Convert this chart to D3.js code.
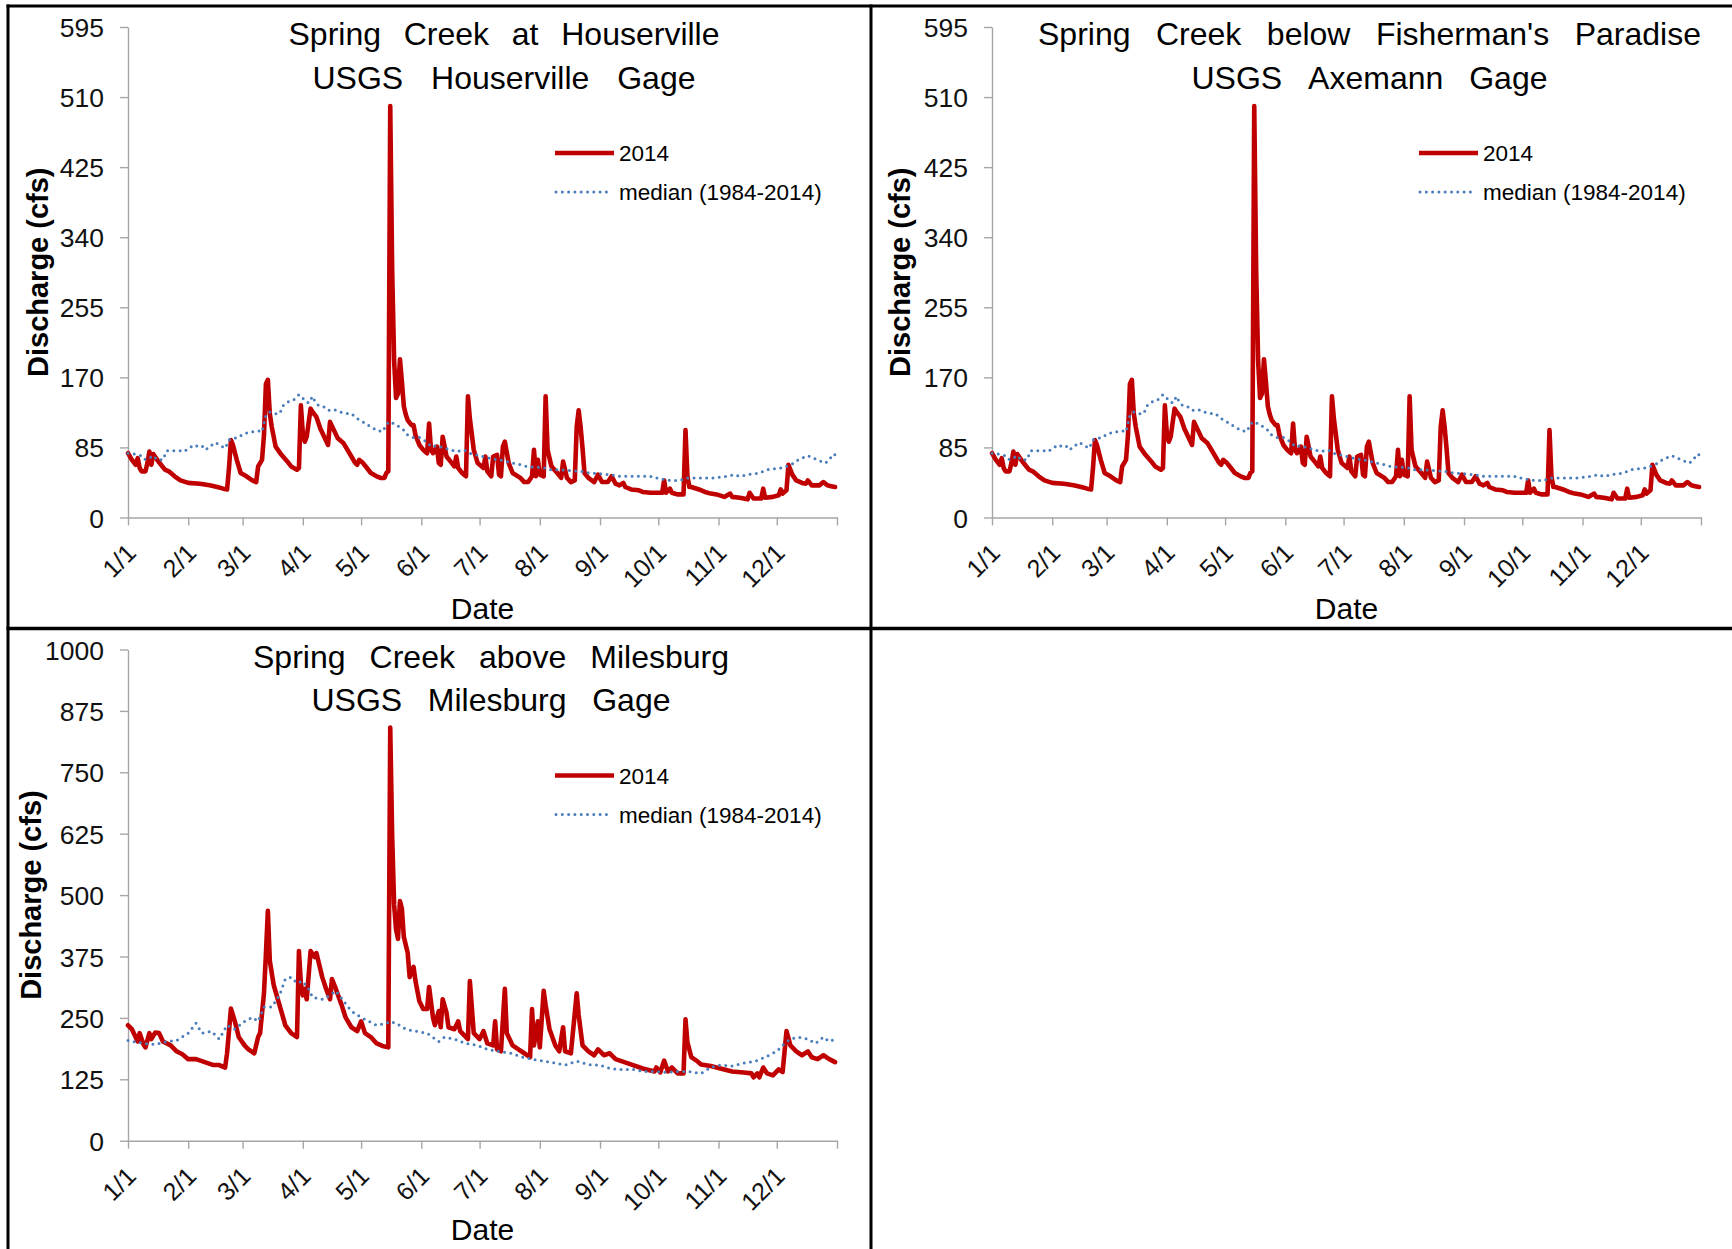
<!DOCTYPE html>
<html>
<head>
<meta charset="utf-8">
<title>Spring Creek discharge 2014</title>
<script src="https://cdn.jsdelivr.net/npm/d3@7"></script>
<style>
  html, body { margin: 0; padding: 0; background: #ffffff; }
  svg { display: block; }
</style>
</head>
<body>
<svg id="chart" width="1732" height="1249"></svg>
<script>
// ---- Daily discharge (cfs), keyed by day of year (0 = Jan 1, 2014) ----

// Houserville gage, 2014
const houservilleDays = [
  0,2,4,5,6,7,9,10,11,12, 13,15,17,19,21,24,27,31,37,42,
  46,49,51,52,53,54,56,58,61,64, 66,67,69,70,71,72,73,74,76,79,
  82,84,87,88,89,90,91,92,94,95, 97,99,101,103,104,106,108,111,113,115,
  117,118,119,121,123,125,128,130,132,133, 134,135,136,137,138,139,140,141,142,143,
  144,146,147,148,150,152,154,155,156,157, 159,160,161,162,164,166,168,169,170,172,
  174,175,176,178,180,183,184,185,187,188, 190,191,192,193,194,196,198,202,204,206,
  208,209,210,211,212,214,215,216,218,221, 223,224,226,228,230,231,232,233,234,235,
  237,240,242,244,247,249,251,253,255,256, 259,263,265,269,272,275,276,277,279,280,
  283,286,287,288,289,290,294,297,300,303, 307,310,311,315,319,320,322,326,327,328,
  332,335,336,337,339,340,342,344,347,349, 350,352,356,358,360,362,364
];
const houservilleFlow2014 = [
  78,70,64,72,60,56,56,66,80,64, 77,70,64,58,56,50,45,42,41,39,
  37,35,34,60,94,88,70,54,50,45, 43,62,70,100,162,167,126,110,86,76,
  68,62,58,60,136,102,92,98,132,128, 122,108,98,88,116,106,96,90,82,74,
  66,64,70,66,60,54,50,48,48,54, 56,499,300,190,145,150,192,165,135,125,
  118,112,112,100,88,82,78,114,82,78, 86,66,64,98,74,68,62,74,60,54,
  50,147,120,82,66,60,74,56,50,74, 76,52,50,86,92,66,54,48,43,43,
  50,82,50,70,52,50,147,82,62,54, 48,68,48,43,45,110,130,110,84,54,
  48,43,52,43,43,50,41,39,42,37, 34,33,31,30,30,30,45,30,35,30,
  28,28,106,50,37,37,34,31,29,28, 25,29,25,24,22,30,23,23,35,24,
  25,27,34,29,33,64,52,45,42,41, 45,39,39,43,39,38,37
];

// Houserville gage, daily median 1984-2014
const houservilleMedianDays = [
  0,3,5,7,9,11,13,15,18,20, 23,27,29,30,32,34,36,38,40,42,
  45,47,50,52,54,57,59,62,64,67, 69,70,71,73,76,78,80,82,85,88,
  89,92,93,95,96,98,101,103,106,109, 113,115,118,121,125,128,131,132,134,137,
  139,142,144,147,150,151,154,156,159,162, 166,169,173,176,179,181,184,188,191,195,
  198,202,205,209,212,215,217,222,228,233, 238,243,248,253,259,264,269,271,273,276,
  279,284,288,291,296,301,305,308,312,315, 319,322,325,329,332,336,339,343,345,347,
  350,352,355,357,359,361,363,364
];
const houservilleMedianFlow = [
  78,77,76,75,70,72,75,70,70,81, 81,81,80,82,85,88,86,87,82,86,
  91,88,84,94,96,97,101,103,104,105, 104,114,124,128,126,126,136,140,142,149,
  147,140,139,147,142,136,134,130,131,128, 126,126,120,116,110,106,104,108,116,114,
  111,106,100,97,97,95,92,86,87,85, 82,80,82,78,76,75,73,71,70,68,
  66,64,62,61,61,60,58,58,57,56, 54,53,52,50,50,50,50,48,48,46,
  45,45,48,48,48,48,49,50,52,50, 52,53,54,58,59,60,62,66,70,72,
  75,73,70,68,66,70,77,76
];

// Axemann gage: the record plotted for this station is the same daily series
const axemannDays = houservilleDays;
const axemannFlow2014 = houservilleFlow2014;
const axemannMedianDays = houservilleMedianDays;
const axemannMedianFlow = houservilleMedianFlow;

// Milesburg gage, 2014
const milesburgDays = [
  0,2,5,6,8,9,11,12,14,16, 18,22,25,28,31,35,38,41,44,47,
  50,51,53,55,57,60,62,65,67,68, 70,71,72,73,75,78,81,84,87,88,
  89,90,91,92,94,96,97,100,102,104, 105,107,110,112,115,118,120,122,125,128,
  131,134,135,136,137,138,139,140,141,142, 144,145,147,148,150,152,154,155,157,158,
  160,161,162,164,165,168,170,171,174,175, 176,178,181,183,185,188,189,190,192,194,
  195,198,201,204,207,208,209,211,212,214, 215,217,220,222,224,225,228,231,232,234,
  237,240,242,245,248,251,254,257,260,265, 271,272,274,276,278,280,283,286,287,288,
  290,293,295,300,305,311,317,321,322,324, 325,327,329,332,335,337,339,341,344,347,
  350,352,355,358,361,364
];
const milesburgFlow2014 = [
  235,227,202,219,196,190,219,207,220,219, 202,194,182,176,166,166,162,158,154,154,
  149,178,269,243,211,194,186,178,211,219, 300,380,468,366,317,276,235,219,211,386,
  320,296,309,288,386,374,382,333,309,288, 329,309,276,251,231,223,243,219,211,198,
  193,190,841,620,480,430,411,488,472,415, 382,333,354,325,284,268,268,313,251,235,
  264,231,288,260,231,227,243,223,211,207, 325,219,207,223,198,194,243,186,182,309,
  219,194,186,178,170,268,194,243,190,305, 276,227,194,182,231,182,178,300,256,194,
  182,174,186,174,178,166,162,158,154,147, 141,149,139,163,141,149,137,137,247,200,
  170,162,155,152,147,141,139,137,129,137, 129,149,137,133,145,140,223,194,182,174,
  182,170,166,174,166,160
];

// Milesburg gage, daily median 1984-2014
const milesburgMedianDays = [
  0,8,14,20,25,31,35,38,43,47, 51,55,60,64,67,70,74,78,81,84,
  87,90,93,95,100,104,107,111,115,120, 124,128,133,135,138,143,148,154,160,163,
  168,174,180,185,191,197,203,208,214,220, 225,231,237,243,248,254,260,265,271,277,
  283,288,295,300,305,311,317,323,328,334, 338,341,345,350,354,358,361,364
];
const milesburgMedianFlow = [
  204,198,196,202,204,219,239,219,223,207, 235,227,243,251,243,272,272,296,329,333,
  321,325,309,292,288,296,305,284,264,251, 243,235,239,243,239,227,223,219,202,211,
  207,198,194,186,182,178,170,166,162,158, 154,162,155,154,147,145,145,141,141,139,
  141,141,137,149,154,152,158,162,170,182, 198,207,211,207,198,211,202,207
];

// Axis tick values
const upperDischargeTicks = [0, 85, 170, 255, 340, 425, 510, 595];
const lowerDischargeTicks = [0, 125, 250, 375, 500, 625, 750, 875, 1000];

// Series and axis labels
const seriesNames = ["2014", "median (1984-2014)"];
const yAxisTitle = "Discharge (cfs)";
const xAxisTitle = "Date";

// ---- Drawing ----
const FONT = "'Liberation Sans', Arial, Helvetica, sans-serif";
const RED = "#c00000";
const BLUE = "#4a7dba";
const AXIS_GREY = "#a6a6a6";

const yearStart = new Date(Date.UTC(2014, 0, 1));
const yearEnd = new Date(Date.UTC(2015, 0, 1));
const dayToDate = d => d3.utcDay.offset(yearStart, d);
const monthTicks = d3.utcMonth.range(yearStart, yearEnd).concat([yearEnd]);
const tickFmt = d3.utcFormat("%-m/%-d");

const zip = (days, vals) => days.map((d, i) => ({ date: dayToDate(d), v: vals[i] }));

const panels = [
  {
    title: ["Spring Creek at Houserville", "USGS Houserville Gage"],
    titleWidths: [431, 383], titleX: 504,
    x0: 128, x1: 837, yTop: 27, yBottom: 517.5, yTicks: upperDischargeTicks,
    obs: zip(houservilleDays, houservilleFlow2014),
    med: zip(houservilleMedianDays, houservilleMedianFlow),
    yLabelX: 37.5, dateBaseline: 619
  },
  {
    title: ["Spring Creek below Fisherman's Paradise", "USGS Axemann Gage"],
    titleWidths: [663, 356], titleX: 1369.5,
    x0: 992, x1: 1701, yTop: 27, yBottom: 517.5, yTicks: upperDischargeTicks,
    obs: zip(axemannDays, axemannFlow2014),
    med: zip(axemannMedianDays, axemannMedianFlow),
    yLabelX: 900, dateBaseline: 619
  },
  {
    title: ["Spring Creek above Milesburg", "USGS Milesburg Gage"],
    titleWidths: [476, 359], titleX: 491,
    x0: 128, x1: 837, yTop: 649.5, yBottom: 1140.7, yTicks: lowerDischargeTicks,
    obs: zip(milesburgDays, milesburgFlow2014),
    med: zip(milesburgMedianDays, milesburgMedianFlow),
    yLabelX: 30.5, dateBaseline: 1240
  }
];

const svg = d3.select("#chart");
svg.append("rect").attr("width", 1732).attr("height", 1249).attr("fill", "#fff");

// Place the words of a title line so the line spans a given width
function spacedTitle(g, text, cx, baseline, width, size) {
  const words = text.split(" ");
  const probe = g.append("g");
  const widths = words.map(w => {
    const t = probe.append("text").attr("font-family", FONT).attr("font-size", size).text(w);
    return t.node().getComputedTextLength();
  });
  probe.remove();
  const inkTotal = d3.sum(widths);
  const gap = words.length > 1 ? (width - inkTotal) / (words.length - 1) : 0;
  let x = cx - width / 2;
  words.forEach((w, i) => {
    g.append("text")
      .attr("x", x).attr("y", baseline)
      .attr("font-family", FONT).attr("font-size", size)
      .attr("fill", "#000")
      .text(w);
    x += widths[i] + gap;
  });
}

panels.forEach(p => {
  const g = svg.append("g");
  const x = d3.scaleUtc().domain([yearStart, yearEnd]).range([p.x0, p.x1]);
  const y = d3.scaleLinear().domain([0, p.yTicks[p.yTicks.length - 1]]).range([p.yBottom, p.yTop]);

  // y axis
  const ya = g.append("g")
    .attr("transform", `translate(${p.x0},0)`)
    .call(d3.axisLeft(y).tickValues(p.yTicks).tickFormat(d3.format("d"))
      .tickSize(8).tickSizeOuter(0).tickPadding(16));
  ya.attr("font-family", FONT).attr("font-size", 26.5);
  ya.select(".domain").attr("stroke", AXIS_GREY).attr("stroke-width", 1.4);
  ya.selectAll(".tick line").attr("stroke", AXIS_GREY).attr("stroke-width", 1.4);
  ya.selectAll(".tick text").attr("fill", "#111").attr("dy", "0.36em");

  // x axis
  const xa = g.append("g")
    .attr("transform", `translate(0,${p.yBottom})`)
    .call(d3.axisBottom(x).tickValues(monthTicks).tickSize(8).tickSizeOuter(0)
      .tickFormat(d => (+d === +yearEnd ? "" : tickFmt(d))));
  xa.attr("font-family", FONT).attr("font-size", 25);
  xa.select(".domain").attr("stroke", AXIS_GREY).attr("stroke-width", 1.4);
  xa.selectAll(".tick line").attr("stroke", AXIS_GREY).attr("stroke-width", 1.4);
  xa.selectAll(".tick text")
    .attr("fill", "#111")
    .attr("x", 0).attr("y", 0).attr("dy", null)
    .attr("transform", "translate(9,37) rotate(-45)")
    .style("text-anchor", "end");

  // 2014 daily flow
  const line = d3.line().x(d => x(d.date)).y(d => y(d.v));
  g.append("path").datum(p.obs)
    .attr("d", line)
    .attr("fill", "none").attr("stroke", RED).attr("stroke-width", 4.6)
    .attr("stroke-linejoin", "round").attr("stroke-linecap", "round");

  // long-term median
  g.append("path").datum(p.med)
    .attr("d", line)
    .attr("fill", "none").attr("stroke", BLUE).attr("stroke-width", 3)
    .attr("stroke-dasharray", "0 6.3").attr("stroke-linecap", "round");

  // titles
  spacedTitle(g, p.title[0], p.titleX, p.yTop + 18, p.titleWidths[0], 32);
  spacedTitle(g, p.title[1], p.titleX, p.yTop + 61.5, p.titleWidths[1], 32);

  // legend
  const lx = p.x0 + 427, ly = p.yTop + 126;
  g.append("line").attr("x1", lx).attr("x2", lx + 59).attr("y1", ly).attr("y2", ly)
    .attr("stroke", RED).attr("stroke-width", 4.6);
  g.append("text").attr("x", lx + 64).attr("y", ly + 8)
    .attr("font-family", FONT).attr("font-size", 22.5).attr("fill", "#000").text(seriesNames[0]);
  g.append("line").attr("x1", lx + 1).attr("x2", lx + 56).attr("y1", ly + 39).attr("y2", ly + 39)
    .attr("stroke", BLUE).attr("stroke-width", 3)
    .attr("stroke-dasharray", "0 6.3").attr("stroke-linecap", "round");
  g.append("text").attr("x", lx + 64).attr("y", ly + 47)
    .attr("font-family", FONT).attr("font-size", 22.5).attr("fill", "#000").text(seriesNames[1]);

  // axis titles
  g.append("text")
    .attr("transform", `translate(${p.yLabelX},${(p.yTop + p.yBottom) / 2}) rotate(-90)`)
    .attr("dy", "0.35em")
    .attr("text-anchor", "middle")
    .attr("font-family", FONT).attr("font-size", 29).attr("font-weight", "bold")
    .attr("fill", "#000")
    .text(yAxisTitle);
  g.append("text")
    .attr("x", (p.x0 + p.x1) / 2).attr("y", p.dateBaseline)
    .attr("text-anchor", "middle")
    .attr("font-family", FONT).attr("font-size", 30)
    .attr("fill", "#000")
    .text(xAxisTitle);
});

// panel frame lines
const frame = svg.append("g").attr("stroke", "#000").attr("stroke-width", 3);
frame.append("line").attr("x1", 6.5).attr("x2", 1732).attr("y1", 6).attr("y2", 6);
frame.append("line").attr("x1", 8).attr("x2", 8).attr("y1", 4.5).attr("y2", 1249);
frame.append("line").attr("x1", 871).attr("x2", 871).attr("y1", 4.5).attr("y2", 1249);
frame.append("line").attr("x1", 6.5).attr("x2", 1732).attr("y1", 628.5).attr("y2", 628.5)
  .attr("stroke-width", 3.5);
</script>
</body>
</html>
